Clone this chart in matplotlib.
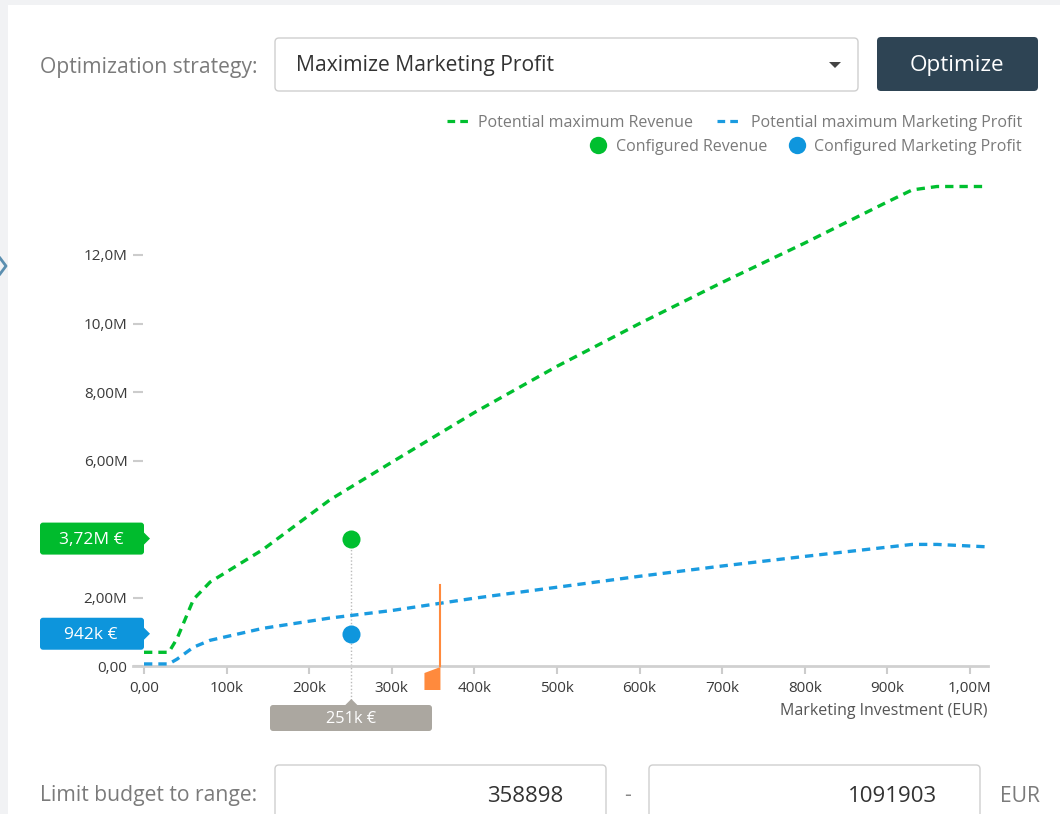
import matplotlib
matplotlib.use("Agg")
import matplotlib.pyplot as plt
import matplotlib.transforms as mtransforms
from matplotlib.patches import FancyBboxPatch, Polygon, Rectangle
from matplotlib.lines import Line2D
import numpy as np

plt.rcParams['font.family'] = ['Open Sans', 'DejaVu Sans']

# ---- data ----
invest_k = [0, 30, 40, 60, 80, 144, 225, 300, 400, 500, 600, 700, 800, 900, 930, 960, 1020]
revenue_m = [0.40, 0.40, 0.80, 1.95, 2.45, 3.40, 4.85, 5.95, 7.4, 8.75, 10.0, 11.2, 12.35, 13.55, 13.9, 14.0, 14.0]
profit_m = [0.06, 0.06, 0.20, 0.55, 0.75, 1.10, 1.40, 1.62, 1.98, 2.30, 2.62, 2.92, 3.20, 3.47, 3.55, 3.55, 3.48]

configured_invest = 251e3
configured_revenue = 3.72e6
configured_profit = 0.942e6
budget_min = 358898
budget_max = 1091903
handle_top = 2.36e6

# the 4,00M label sits under the revenue tag in the reference, so it is left blank
y_ticks = [0, 2e6, 4e6, 6e6, 8e6, 10e6, 12e6]
y_tick_labels = ['0,00', '2,00M', '', '6,00M', '8,00M', '10,0M', '12,0M']
x_ticks = [0, 100e3, 200e3, 300e3, 400e3, 500e3, 600e3, 700e3, 800e3, 900e3, 1000e3]
x_tick_labels = ['0,00', '100k', '200k', '300k', '400k', '500k', '600k', '700k', '800k', '900k', '1,00M']

GREEN = '#00bf2f'
BLUE = '#1a9be0'
GREY_LBL = '#aba7a0'
ORANGE = '#ff8a3d'
TXT = '#7a7a7a'

W, H = 1060, 814
fig = plt.figure(figsize=(W / 100, H / 100), dpi=100)
fig.patch.set_facecolor('#f1f2f4')

# pixel transform, y measured from top
PX = mtransforms.Affine2D().scale(1 / W, -1 / H).translate(0, 1) + fig.transFigure

# white card
fig.patches.append(Rectangle((8, 5), W, H, transform=PX, facecolor='white', edgecolor='none', zorder=-5))

# ---- chart axes ----
ax_l, ax_r, ax_t, ax_b = 133, 988, 170, 666
ax = fig.add_axes([ax_l / W, (H - ax_b) / H, (ax_r - ax_l) / W, (ax_b - ax_t) / H])
ax.set_facecolor('none')
px_per_unit = 826 / 1e6
ax.set_xlim(-(144 - ax_l) / px_per_unit, (ax_r - 144) / px_per_unit)
ax.set_ylim(0, (ax_b - ax_t) / (34.25 / 1e6))

for s in ['top', 'right', 'left']:
    ax.spines[s].set_visible(False)
ax.spines['bottom'].set_color('#d0d0d0')
ax.spines['bottom'].set_linewidth(2)

ax.set_xticks(x_ticks)
ax.set_xticklabels(x_tick_labels)
ax.set_yticks(y_ticks)
ax.set_yticklabels(y_tick_labels)
ax.tick_params(axis='x', direction='out', length=5.5, width=1.5, color='#cccccc',
               labelsize=11, labelcolor='#3a3a3a', pad=5)
ax.tick_params(axis='y', direction='in', length=7.5, width=1.5, color='#cccccc',
               labelsize=11, labelcolor='#3a3a3a', pad=4)
ax.set_xlabel('Marketing Investment (EUR)', fontsize=11.5, color='#555555', loc='right', labelpad=5)

x = np.array(invest_k) * 1e3
ax.plot(x, np.array(revenue_m) * 1e6, color=GREEN, lw=2.4, ls=(0, (2.5, 1.8)), clip_on=False, zorder=3)
ax.plot(x, np.array(profit_m) * 1e6, color=BLUE, lw=2.4, ls=(0, (2.5, 1.8)), clip_on=False, zorder=3)

# configured point guide
ax.plot([configured_invest, configured_invest], [configured_revenue, -1.2e6], color='#bbbbbb',
        lw=1, ls=(0, (1, 1.5)), clip_on=False, zorder=2)
ax.plot(configured_invest, configured_revenue, 'o', ms=13, color=GREEN, mec='none', zorder=4, clip_on=False)
ax.plot(configured_invest, configured_profit, 'o', ms=13, color='#0f96dd', mec='none', zorder=4, clip_on=False)

# budget handle
ax.plot([budget_min, budget_min], [0, handle_top], color=ORANGE, lw=1.5, zorder=3, clip_on=False)


def to_px(xd, yd):
    dx, dy = ax.transData.transform((xd, yd))
    return dx, H - dy


hx, hy = to_px(budget_min, 0)
fig.patches.append(Polygon([(hx - 16, hy + 7), (hx, hy + 1), (hx, hy + 24), (hx - 16, hy + 24)],
                           closed=True, transform=PX, facecolor=ORANGE, edgecolor='none', zorder=5))


def value_tag(cy, text, color):
    fig.patches.append(FancyBboxPatch((40, cy - 16), 104, 32, boxstyle='round,pad=0,rounding_size=3',
                                      transform=PX, facecolor=color, edgecolor='none', zorder=5))
    fig.patches.append(Polygon([(143, cy - 7), (150, cy), (143, cy + 7)], closed=True, transform=PX,
                               facecolor=color, edgecolor='none', zorder=5))
    fig.text(91, cy + 1, text, transform=PX, ha='center', va='center', fontsize=12.5, color='white', zorder=6)


_, gy = to_px(0, configured_revenue)
_, by = to_px(0, configured_profit)
value_tag(gy, '3,72M €', '#00bb2d')
value_tag(by, '942k €', '#0d95dc')

cx, _ = to_px(configured_invest, 0)
fig.patches.append(FancyBboxPatch((270, 705), 162, 26, boxstyle='round,pad=0,rounding_size=3',
                                  transform=PX, facecolor=GREY_LBL, edgecolor='none', zorder=5))
fig.patches.append(Polygon([(cx - 7, 706), (cx, 699), (cx + 7, 706)], closed=True, transform=PX,
                           facecolor=GREY_LBL, edgecolor='none', zorder=5))
fig.text(cx, 719, '251k €', transform=PX, ha='center', va='center', fontsize=11.8, color='white', zorder=6)

# ---- legend ----
LEG = 11.5
fig.lines.append(Line2D([447, 471], [121, 121], transform=PX, color=GREEN, lw=2.3, ls=(0, (2.4, 1.6))))
fig.text(478, 123, 'Potential maximum Revenue', transform=PX, ha='left', va='center', fontsize=LEG, color=TXT)
fig.lines.append(Line2D([717, 742], [121, 121], transform=PX, color=BLUE, lw=2.3, ls=(0, (2.4, 1.6))))
fig.text(1022, 123, 'Potential maximum Marketing Profit', transform=PX, ha='right', va='center',
         fontsize=LEG, color=TXT)
fig.lines.append(Line2D([598], [145], transform=PX, marker='o', ms=12.5, color=GREEN, mec='none'))
fig.text(767, 147, 'Configured Revenue', transform=PX, ha='right', va='center', fontsize=LEG, color=TXT)
fig.lines.append(Line2D([797], [145], transform=PX, marker='o', ms=12.5, color='#0f96dd', mec='none'))
fig.text(1022, 147, 'Configured Marketing Profit', transform=PX, ha='right', va='center',
         fontsize=LEG, color=TXT)

# ---- form controls ----
FORM = 15.2
fig.text(40, 67, 'Optimization strategy:', transform=PX, ha='left', va='center', fontsize=FORM, color='#7b7b7b')
fig.patches.append(FancyBboxPatch((275, 38), 583, 53, boxstyle='round,pad=0,rounding_size=4', transform=PX,
                                  facecolor='white', edgecolor='#cfcfcf', lw=1, zorder=2))
fig.text(296, 66, 'Maximize Marketing Profit', transform=PX, ha='left', va='center', fontsize=FORM,
         color='#333333')
fig.patches.append(Polygon([(829, 62), (841, 62), (835, 68)], closed=True, transform=PX,
                           facecolor='#444444', edgecolor='none', zorder=3))
fig.patches.append(FancyBboxPatch((877, 37), 161, 54, boxstyle='round,pad=0,rounding_size=4', transform=PX,
                                  facecolor='#2e4454', edgecolor='none', zorder=2))
fig.text(957, 66, 'Optimize', transform=PX, ha='center', va='center', fontsize=16.2, color='white', zorder=3)

fig.text(40, 795, 'Limit budget to range:', transform=PX, ha='left', va='center', fontsize=FORM, color='#7b7b7b')
fig.patches.append(FancyBboxPatch((275, 765), 331, 70, boxstyle='round,pad=0,rounding_size=4', transform=PX,
                                  facecolor='white', edgecolor='#cfcfcf', lw=1, zorder=2))
fig.text(563, 796, str(budget_min), transform=PX, ha='right', va='center', fontsize=16, color='#333333', zorder=3)
fig.text(628, 796, '-', transform=PX, ha='center', va='center', fontsize=FORM, color='#888888')
fig.patches.append(FancyBboxPatch((649, 765), 331, 70, boxstyle='round,pad=0,rounding_size=4', transform=PX,
                                  facecolor='white', edgecolor='#cfcfcf', lw=1, zorder=2))
fig.text(937, 796, str(budget_max), transform=PX, ha='right', va='center', fontsize=16, color='#333333', zorder=3)
fig.text(1000, 796, 'EUR', transform=PX, ha='left', va='center', fontsize=FORM, color='#7b7b7b')

# side chevron
fig.lines.append(Line2D([0, 6, 0], [258, 266, 274], transform=PX, color='#5b8fb0', lw=2))

fig.savefig('out.png', dpi=100, facecolor=fig.get_facecolor())
